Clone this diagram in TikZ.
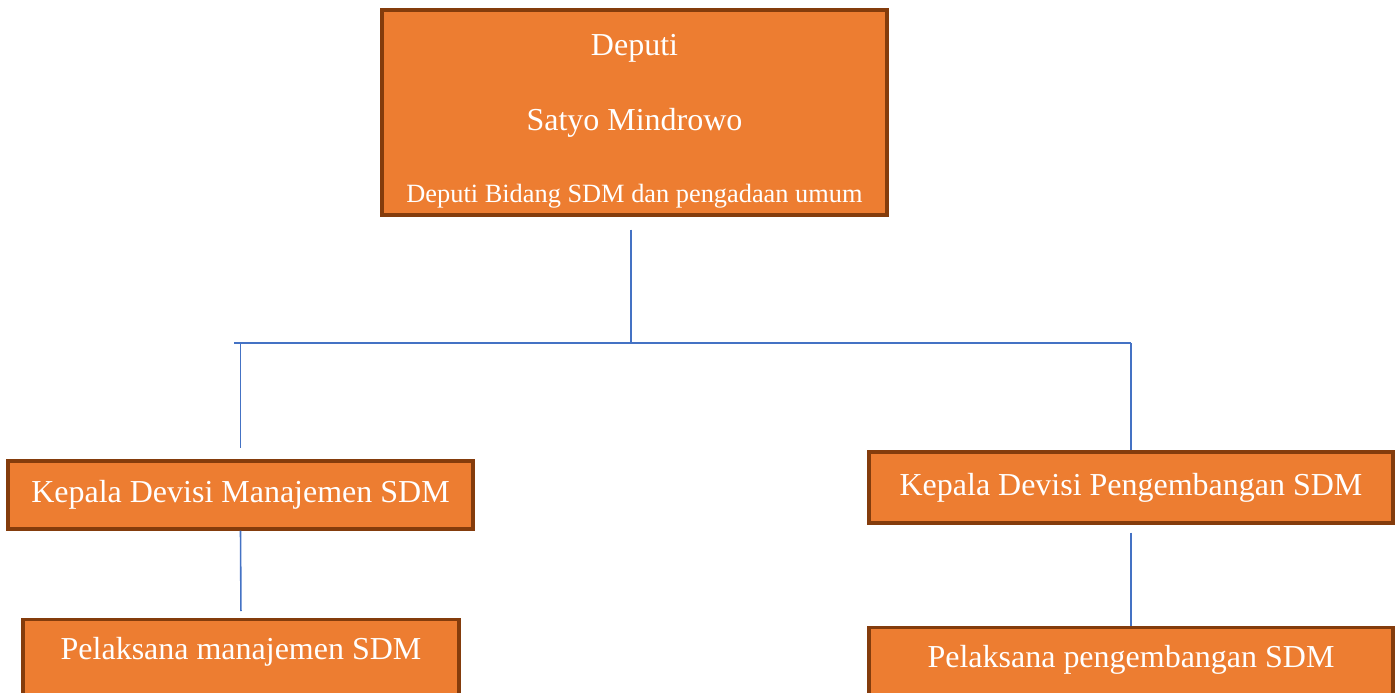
\documentclass[tikz,border=0pt]{standalone}
\usepackage{fontspec}
\setmainfont{Liberation Serif}
\usepackage{tikz}
\usepackage{xcolor}

\definecolor{boxorange}{HTML}{ED7D31}
\definecolor{boxbrown}{HTML}{843C0C}
\definecolor{linkblue}{HTML}{4472C4}

\begin{document}
\begin{tikzpicture}[
        box/.style={draw=boxbrown, line width=0.9pt, fill=boxorange, text=white, inner sep=0pt},
        conn/.style={linkblue, line width=0.45pt}
    ]
        \clip (0,0) rectangle (14,-6.93);

        % Top box
        \node[box, minimum width=5.05cm, minimum height=2.05cm, align=center,
              font=\fontsize{9.1}{9}\selectfont] (deputi) at (6.345,-1.125)
              {\rule{0pt}{11pt}Deputi\\[12.5pt]Satyo Mindrowo\\[11.5pt]{\fontsize{7.5}{9}\selectfont Deputi Bidang SDM dan pengadaan umum}};

        % Division heads
        \node[box, minimum width=4.65cm, minimum height=0.68cm, font=\fontsize{9.1}{10}\selectfont]
              (kpm) at (2.405,-4.95) {Kepala Devisi Manajemen SDM};
        \node[box, minimum width=5.24cm, minimum height=0.71cm, font=\fontsize{9.1}{10}\selectfont]
              (kpp) at (11.31,-4.875) {Kepala Devisi Pengembangan SDM};

        % Staff
        \node[box, anchor=north, minimum width=4.36cm, text height=0.4cm, text depth=0.5cm,
              font=\fontsize{9.1}{10}\selectfont] (plm) at (2.41,-6.18) {Pelaksana manajemen SDM};
        \node[box, anchor=north, minimum width=5.24cm, text height=0.4cm, text depth=0.5cm,
              font=\fontsize{9.1}{10}\selectfont] (plp) at (11.31,-6.26) {Pelaksana pengembangan SDM};

        % Bus
        \coordinate (bus) at (6.31,-3.43);
        \coordinate (busl) at (2.34,-3.43);

        % Connectors
        \draw[conn, shorten <=1.3mm] (deputi.south -| bus) -- (bus);
        \draw[conn] (busl) -- (kpp.north |- busl);
        \draw[conn, shorten >=1.1mm] (kpm.north |- busl) -- (kpm.north);
        \draw[conn] (kpp.north |- busl) -- (kpp.north);
        \draw[conn, shorten >=0.7mm] (kpm.south) -- (plm.north);
        \draw[conn, shorten <=0.8mm] (kpp.south) -- (plp.north);
    \end{tikzpicture}
\end{document}
